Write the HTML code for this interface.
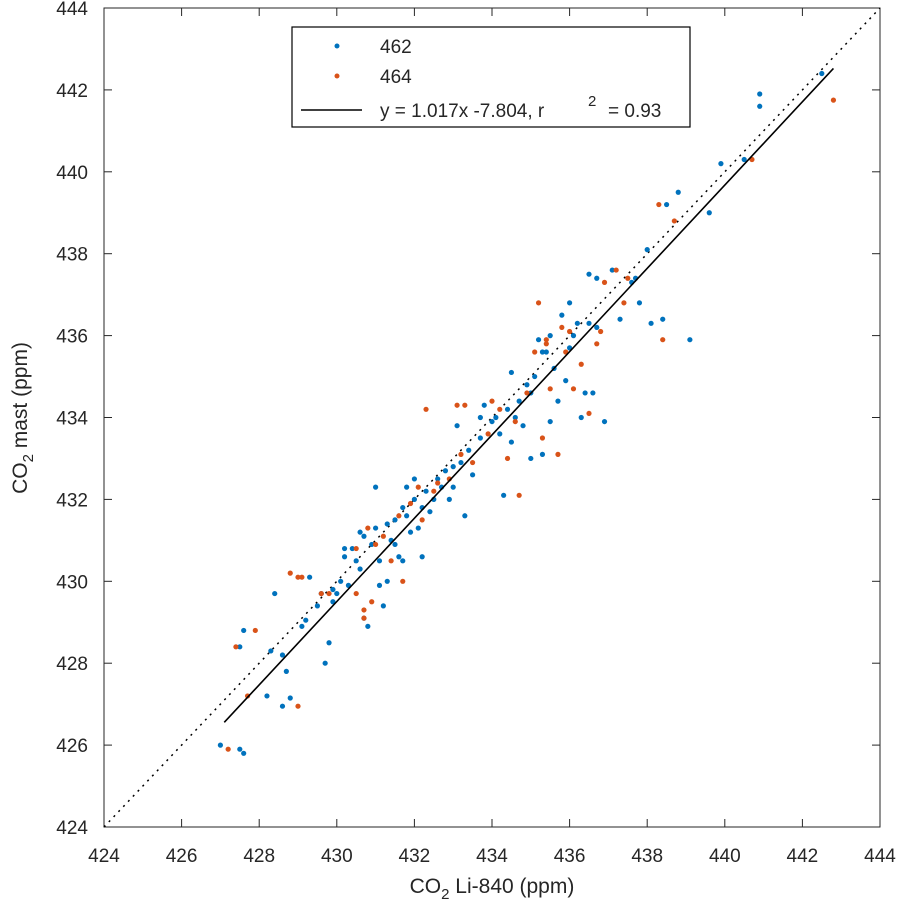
<!DOCTYPE html>
<html><head><meta charset="utf-8"><style>
body{margin:0;background:#fff;}
svg text{font-family:"Liberation Sans",sans-serif;fill:#262626;}
</style></head><body>
<svg id="chart" width="900" height="907">
<g id="grid"></g>
<g id="marks"></g>
<g id="legend">
<rect x="292" y="27" width="398" height="100" fill="#fff" stroke="#000" stroke-width="1.2"/>
<circle cx="337" cy="46" r="2.5" fill="#0072BD"/>
<text x="380" y="53" font-size="19">462</text>
<circle cx="337" cy="76" r="2.5" fill="#D95319"/>
<text x="380" y="83" font-size="19">464</text>
<line x1="301" y1="110" x2="362" y2="110" stroke="#000" stroke-width="1.5"/>
<text x="380" y="117" font-size="19">y = 1.017x -7.804, r</text>
<text x="588" y="106" font-size="15">2</text>
<text x="608" y="117" font-size="19">= 0.93</text>
</g>
<text x="492" y="893" font-size="21" text-anchor="middle">CO<tspan font-size="15" dy="6">2</tspan><tspan dy="-6"> Li-840 (ppm)</tspan></text>
<text transform="translate(27,418) rotate(-90)" font-size="21" text-anchor="middle">CO<tspan font-size="15" dy="6">2</tspan><tspan dy="-6"> mast (ppm)</tspan></text>
</svg>
<script>
const xTicks=[424,426,428,430,432,434,436,438,440,442,444];
const yTicks=[424,426,428,430,432,434,436,438,440,442,444];
const s462=[[427.0,426.0],[427.5,425.9],[427.6,425.8],[427.6,428.8],[427.5,428.4],[428.3,428.3],[428.4,429.7],[428.6,428.2],[428.7,427.8],[428.2,427.2],[428.6,426.95],[428.8,427.15],[429.1,428.9],[429.3,430.1],[429.2,429.05],[429.5,429.4],[429.6,429.7],[429.7,428.0],[429.8,428.5],[429.9,429.5],[430.0,429.7],[430.1,430.0],[430.2,430.8],[430.3,429.9],[430.5,430.5],[430.6,430.3],[430.7,429.1],[430.8,428.9],[430.9,430.9],[431.0,431.3],[431.0,432.3],[431.1,430.5],[431.2,429.4],[431.3,430.0],[431.4,431.0],[431.5,431.5],[431.6,430.6],[431.7,431.8],[431.8,432.3],[431.9,431.2],[432.0,432.0],[432.1,431.3],[432.2,430.6],[432.3,432.2],[432.4,431.7],[432.6,432.5],[432.7,432.3],[432.9,432.0],[433.0,432.8],[433.1,433.8],[433.2,432.9],[433.3,431.6],[433.4,433.2],[433.5,432.6],[433.7,433.5],[433.8,434.3],[434.0,433.9],[434.2,433.6],[434.3,432.1],[434.4,434.2],[434.5,435.1],[434.6,434.0],[434.7,434.4],[434.8,433.8],[435.0,434.6],[435.0,433.0],[435.1,435.0],[435.2,435.9],[435.3,433.1],[435.4,435.6],[435.5,436.0],[435.6,435.2],[435.7,434.4],[435.8,436.5],[435.9,434.9],[436.0,436.8],[436.1,436.0],[436.2,436.3],[436.3,434.0],[436.4,434.6],[436.5,437.5],[436.6,434.6],[436.7,436.2],[436.9,433.9],[437.1,437.6],[437.3,436.4],[437.6,437.3],[437.7,437.4],[437.8,436.8],[438.0,438.1],[438.1,436.3],[438.4,436.4],[438.5,439.2],[438.8,439.5],[439.1,435.9],[439.6,439.0],[439.9,440.2],[440.5,440.3],[440.9,441.9],[440.9,441.6],[442.5,442.4],[430.4,430.8],[430.7,431.1],[431.3,431.4],[431.5,430.9],[431.8,431.6],[432.2,431.8],[432.5,432.0],[429.9,429.8],[430.2,430.6],[432.8,432.7],[433.7,434.0],[434.1,434.0],[434.9,434.8],[435.3,435.6],[436.0,435.7],[436.5,436.3],[434.5,433.4],[435.5,433.9],[433.0,432.3],[431.1,429.9],[431.7,430.5],[430.6,431.2],[432.0,432.5],[436.7,437.4]];
const s464=[[427.2,425.9],[427.4,428.4],[427.7,427.2],[427.9,428.8],[428.8,430.2],[429.0,430.1],[429.0,426.95],[429.1,430.1],[429.6,429.7],[429.8,429.7],[430.5,430.8],[430.7,429.3],[430.7,429.1],[430.9,429.5],[430.8,431.3],[431.0,430.9],[431.2,431.1],[431.4,430.5],[431.7,430.0],[431.6,431.6],[432.1,432.3],[432.3,434.2],[432.5,432.2],[432.6,432.4],[432.9,432.5],[433.1,434.3],[433.3,434.3],[433.2,433.1],[433.5,432.9],[433.9,433.6],[434.2,434.2],[434.4,433.0],[434.7,432.1],[434.9,434.6],[435.1,435.6],[435.2,436.8],[435.3,433.5],[435.4,435.9],[435.4,435.8],[435.5,434.7],[435.7,433.1],[435.8,436.2],[435.9,435.6],[436.0,436.1],[436.3,435.3],[436.5,434.1],[436.7,435.8],[436.9,437.3],[437.2,437.6],[437.4,436.8],[437.5,437.4],[438.3,439.2],[438.4,435.9],[438.7,438.8],[440.7,440.3],[442.8,441.75],[432.2,431.5],[431.9,431.9],[430.5,429.7],[434.0,434.4],[434.6,433.9],[436.1,434.7],[436.8,436.1]];
const fitSlope=[1.017], fitIntercept=[-7.804], fitRange=[427.1,442.8];

const L=104,R=880,T=8,B=827,xMin=424,xMax=444,yMin=424,yMax=444;
const sx=v=>L+(v-xMin)/(xMax-xMin)*(R-L);
const sy=v=>B-(v-yMin)/(yMax-yMin)*(B-T);
const NS='http://www.w3.org/2000/svg';
const g=document.getElementById('grid'), m=document.getElementById('marks');
function mk(tag,attrs,parent){const e=document.createElementNS(NS,tag);for(const k in attrs)e.setAttribute(k,attrs[k]);parent.appendChild(e);return e;}
xTicks.forEach(t=>{
  const x=sx(t);
  let e=mk('line',{x1:x,y1:B,x2:x,y2:B-8,stroke:'#262626'},g);
  
  
  e=mk('line',{x1:x,y1:T,x2:x,y2:T+8,stroke:'#262626'},g);
  
  
  e=mk('text',{x:x,y:862,'font-size':19,'text-anchor':'middle'},g);e.textContent=t;
  
  
});
yTicks.forEach(t=>{
  const y=sy(t);
  let e=mk('line',{x1:L,y1:y,x2:L+8,y2:y,stroke:'#262626'},g);
  
  
  e=mk('line',{x1:R,y1:y,x2:R-8,y2:y,stroke:'#262626'},g);
  
  
  e=mk('text',{x:88,y:y+7,'font-size':19,'text-anchor':'end'},g);e.textContent=t;
  
  
});
let frame=mk('rect',{x:L,y:T,width:R-L,height:B-T,fill:'none',stroke:'#262626','stroke-width':1},g);


let diag=mk('line',{x1:sx(xMin),y1:sy(yMin),x2:sx(xMax),y2:sy(yMax),stroke:'#000','stroke-width':1.5,'stroke-dasharray':'2 5'},m);


s462.forEach(p=>{const c=mk('circle',{cx:sx(p[0]),cy:sy(p[1]),r:2.6,fill:'#0072BD'},m);
  
  });
s464.forEach(p=>{const c=mk('circle',{cx:sx(p[0]),cy:sy(p[1]),r:2.6,fill:'#D95319'},m);
  
  });
const fy=x=>fitSlope[0]*x+fitIntercept[0];
let fl=mk('line',{x1:sx(fitRange[0]),y1:sy(fy(fitRange[0])),x2:sx(fitRange[1]),y2:sy(fy(fitRange[1])),stroke:'#000','stroke-width':1.6},m);


</script>
</body></html>
